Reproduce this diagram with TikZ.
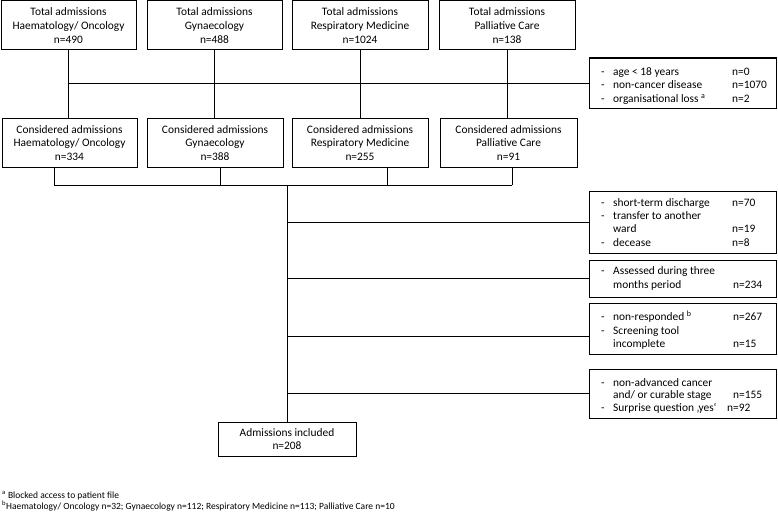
\documentclass[tikz,border=0pt]{standalone}
\usepackage{fontspec}
\setmainfont{Carlito}
\begin{document}
\begin{tikzpicture}[x=1pt,y=-1pt,
  box/.style={draw, line width=1pt, align=center, inner sep=0pt, font=\fontsize{11.4}{13.8}\selectfont},
  lbl/.style={anchor=base west, inner sep=0pt, font=\fontsize{11.4}{13.8}\selectfont},
  foot/.style={anchor=base west, inner sep=0pt, font=\fontsize{9.5}{11}\selectfont},
  link/.style={line width=1pt}]
\useasboundingbox (0,0) rectangle (778,511);
% top boxes
\node[box, minimum width=135pt, minimum height=49pt] (t1) at (68.5,25.5) {Total admissions\\Haematology/ Oncology\\n=490};
\node[box, minimum width=135pt, minimum height=49pt] (t2) at (214.5,25.5) {Total admissions\\Gynaecology\\n=488};
\node[box, minimum width=136pt, minimum height=49pt] (t3) at (360,25.5) {Total admissions\\Respiratory Medicine\\n=1024};
\node[box, minimum width=136pt, minimum height=49pt] (t4) at (507,25.5) {Total admissions\\Palliative Care\\n=138};
% considered boxes
\node[box, minimum width=135pt, minimum height=49pt] (c1) at (69.5,143) {Considered admissions\\Haematology/ Oncology\\n=334};
\node[box, minimum width=136pt, minimum height=49pt] (c2) at (215,143) {Considered admissions\\Gynaecology\\n=388};
\node[box, minimum width=136pt, minimum height=49pt] (c3) at (360,143) {Considered admissions\\Respiratory Medicine\\n=255};
\node[box, minimum width=137pt, minimum height=49pt] (c4) at (508.5,143) {Considered admissions\\Palliative Care\\n=91};
% included
\node[box, minimum width=138pt, minimum height=34pt] (inc) at (287,439) {Admissions included\\n=208};
% right boxes
\node[box, minimum width=187pt, minimum height=50pt] (r1) at (683,83) {};
\node[box, minimum width=187pt, minimum height=62pt] (r2) at (683,222) {};
\node[box, minimum width=187pt, minimum height=37pt] (r3) at (683,278.5) {};
\node[box, minimum width=187pt, minimum height=51pt] (r4) at (683,328.5) {};
\node[box, minimum width=187pt, minimum height=49pt] (r5) at (683,393.5) {};
% r1 text
\node[lbl] (r1d1) at (601,75) {-};
\node[lbl] (r1a) at (613,75) {age < 18 years};
\node[lbl] (r1an) at (732,75) {n=0};
\node[lbl] (r1d2) at (601,88) {-};
\node[lbl] (r1b) at (613,88) {non-cancer disease};
\node[lbl] (r1bn) at (732,88) {n=1070};
\node[lbl] (r1d3) at (601,102) {-};
\node[lbl] (r1c) at (613,102) {organisational loss \textsuperscript{a}};
\node[lbl] (r1cn) at (732,102) {n=2};
% r2 text
\node[lbl] (r2d1) at (601,206) {-};
\node[lbl] (r2a) at (613,206) {short-term discharge};
\node[lbl] (r2an) at (732,206) {n=70};
\node[lbl] (r2d2) at (601,219) {-};
\node[lbl] (r2b) at (613,219) {transfer to another};
\node[lbl] (r2c) at (613,232) {ward};
\node[lbl] (r2cn) at (732,232) {n=19};
\node[lbl] (r2d3) at (601,246) {-};
\node[lbl] (r2d) at (613,246) {decease};
\node[lbl] (r2dn) at (732,246) {n=8};
% r3 text
\node[lbl] (r3d1) at (601,274) {-};
\node[lbl] (r3a) at (613,274) {Assessed during three};
\node[lbl] (r3b) at (613,288) {months period};
\node[lbl] (r3bn) at (733,288) {n=234};
% r4 text
\node[lbl] (r4d1) at (601,320) {-};
\node[lbl] (r4a) at (613,320) {non-responded \textsuperscript{b}};
\node[lbl] (r4an) at (733,320) {n=267};
\node[lbl] (r4d2) at (601,334) {-};
\node[lbl] (r4b) at (613,334) {Screening tool};
\node[lbl] (r4c) at (613,347) {incomplete};
\node[lbl] (r4cn) at (733,347) {n=15};
% r5 text
\node[lbl] (r5d1) at (601,386) {-};
\node[lbl] (r5a) at (613,386) {non-advanced cancer};
\node[lbl] (r5b) at (613,398) {and/ or curable stage};
\node[lbl] (r5bn) at (733,398) {n=155};
\node[lbl] (r5d2) at (601,411) {-};
\node[lbl] (r5c) at (613,411) {Surprise question ‚yes‘};
\node[lbl] (r5cn) at (727,411) {n=92};
% footnotes
\node[foot] (fa) at (2,498) {\textsuperscript{a} Blocked access to patient file};
\node[foot] (fb) at (2,509) {\textsuperscript{b}Haematology/ Oncology n=32; Gynaecology n=112; Respiratory Medicine n=113; Palliative Care n=10};
% connectors top
\draw[link] (t1.south) -- (t1.south |- c1.north);
\draw[link] (t2.south) -- (t2.south |- c2.north);
\draw[link] (t3.south) -- (t3.south |- c3.north);
\draw[link] (t4.south) -- (t4.south |- c4.north);
\draw[link] (t1.south |- r1.west) -- (r1.west);
% connectors bottom
\coordinate (b1) at (54,185);
\coordinate (b2) at (220,185);
\coordinate (b3) at (387,185);
\coordinate (b4) at (512,185);
\coordinate (tr) at (287,185);
\coordinate (k4) at (589.5,336);
\draw[link] (c1.south -| b1) -- (b1) -- (b4);
\draw[link] (c2.south -| b2) -- (b2);
\draw[link] (c3.south -| b3) -- (b3);
\draw[link] (c4.south -| b4) -- (b4);
\draw[link] (tr) -- (inc.north);
\draw[link] (tr |- r2.west) -- (r2.west);
\draw[link] (tr |- r3.west) -- (r3.west);
\draw[link] (tr |- k4) -- (k4);
\draw[link] (tr |- r5.west) -- (r5.west);
\end{tikzpicture}
\end{document}
